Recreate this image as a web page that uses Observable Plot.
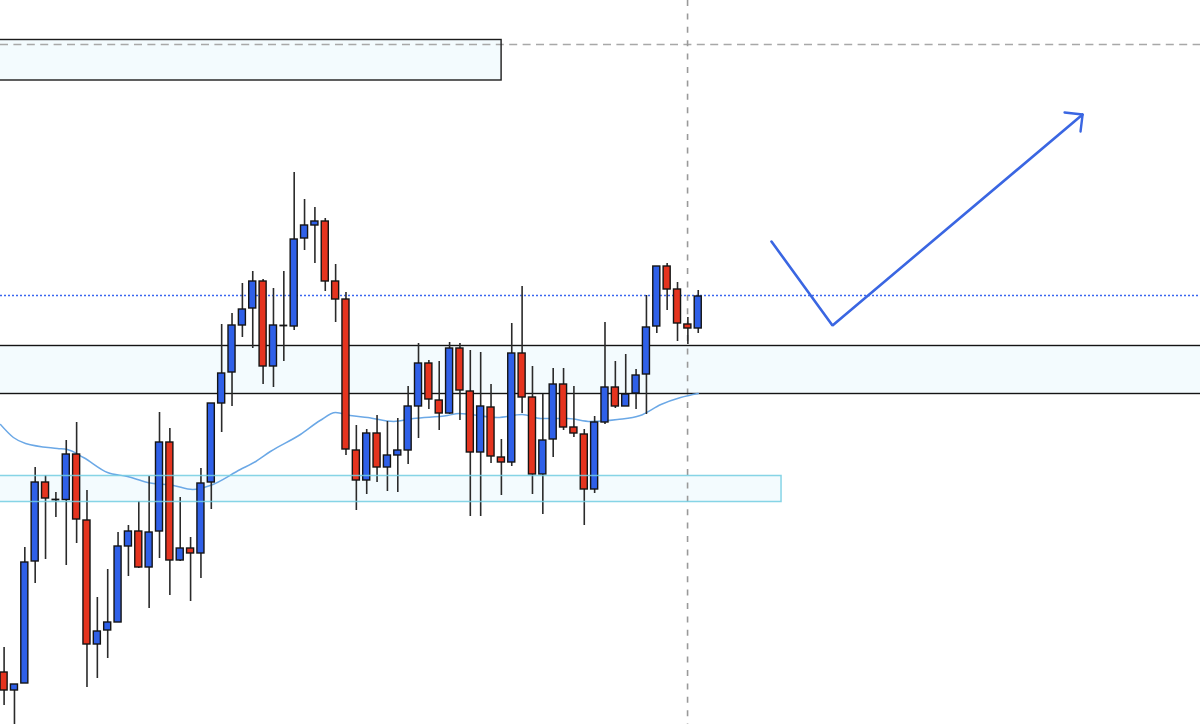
<!DOCTYPE html>
<html>
<head>
<meta charset="utf-8">
<script src="https://cdn.jsdelivr.net/npm/d3@7"></script>
<script src="https://cdn.jsdelivr.net/npm/@observablehq/plot@0.6"></script>
<style>html,body{margin:0;padding:0;background:#fff;overflow:hidden}svg{display:block}</style>
</head>
<body>
<div id="chart"></div>
<script>
const open  = [52,34,41,163,242,225,224.5,270,204,80,94,102,178,193,157,193,282,164,176,171,242,321,352,399,416,443,358,399,398,486,499,503,443,425,274,244,291,257,269,274,318,361,324,311,376,333,272,317,267,262,371,327,250,285,340,297,290,235,302,337,318,331,350,398,458,435,400,396];
const close = [34,40,162,242,226,224.5,270,205,80,93,102,178,193,157,192,282,164,176,171,241,321,351,399,415,443,358,399,398.5,485,499,503,443,425,275,244,291,257,269,274,318,361,325,311,376,334,272,318,268,262,371,327,250,284,340,297,291,235,302,337,318,330,349,397,458,435,401,396,428];
const high  = [77,40,177,257,249,232,284,302,234,127,155,192,199,223,248,312,296,227,187,256,321,400,411,441,453,445,436,453,552,525,517,506,460,432,299,295,309,303,306,338,381,364,363,382,381,374,372,340,285,401,438,358,330,356,356,338,295,308,402,363,370,355,429,458,461,442,407,434];
const low   = [19,-6,41,141,165,207,159,181,37,46,66,102,148,156,116,166,129,163,123,146,215,292,318,387,376,340,337,363,394,474,461,433,402,269,214,230,242,233,232,260,286,315,294,310,304,208,208,261,229,258,311,230,210,267,294,287,199,231,300,316,318,315,310,391,414,383,380,391];

const maIndex = [-0.35,0.9,2.07,5.15,6.1,7.66,9.98,11.9,13.85,16.35,18.2,19.9,22.8,24.3,25.7,28.6,30.5,32,33.4,35.1,37.6,39.5,42.8,43.9,47.6,50,51.8,54.4,56.6,59.2,61.4,63.4,65.3,67];
const maValue = [300,287,281,276,275,267,252,248,242,239,235,239,255,263,273,290,304,312,309,307,303,306,309,311,307,310,306,306,303,305,309,320,327,331];

const zones = [
  {x1:-2,  x2:48.02,  top:684.5, bottom:644,   stroke:"#1c1c1c"},
  {x1:-2,  x2:125,    top:378.5, bottom:330.5, stroke:"#141414"},
  {x1:-2,  x2:75.04,  top:248.5, bottom:222.5, stroke:"#72cde2"}
];
const crossPrice = 680, crossIndex = 65.97, dottedPrice = 429;
const tickIndex = [74.07,79.96,104.1], tickPrice = [483,399,610];
const headIndex = [102.36,104.1,103.9], headPrice = [612,610,593];

const candles = open.map((o,i)=>({i,o,c:close[i],h:high[i],l:low[i]}));
const BLUE="#2f60e8", RED="#e5341f", EDGE="#141414";
const half=0.34;
const isDoji=d=>Math.abs(d.o-d.c)<1;

const plot = Plot.plot({
  width:1200,height:724,
  marginTop:0,marginRight:0,marginBottom:0,marginLeft:0,
  style:{background:"#fff"},
  x:{type:"linear",domain:[-0.3475,115.48],range:[0,1200],axis:null},
  y:{type:"linear",domain:[0,724],range:[724,0],axis:null},
  marks:[
    Plot.rect(zones,{x1:"x1",x2:"x2",y1:"bottom",y2:"top",fill:"#f3fbfe"}),
    Plot.ruleY([crossPrice],{stroke:"#a8a8a8",strokeWidth:1.5,strokeDasharray:"8,5.4"}),
    Plot.ruleX([crossIndex],{stroke:"#999999",strokeWidth:1.6,strokeDasharray:"6,7.4"}),
    Plot.ruleY([dottedPrice],{stroke:"#3a66f0",strokeWidth:1.3,strokeOpacity:1,strokeDasharray:"2,2"}),
    Plot.rect(zones.slice(0,2),{x1:"x1",x2:"x2",y1:"bottom",y2:"top",fill:"none",stroke:"stroke",strokeWidth:1.4}),
    Plot.line(maIndex.map((x,k)=>({x,y:maValue[k]})),{x:"x",y:"y",stroke:"#6ba8e6",strokeWidth:1.5,curve:"monotone-x"}),
    Plot.ruleX(candles,{x:"i",y1:"l",y2:"h",stroke:"#2a2a2a",strokeWidth:1.6}),
    Plot.rect(candles.filter(d=>!isDoji(d)),{x1:d=>d.i-half,x2:d=>d.i+half,y1:"o",y2:"c",
      fill:d=>d.c>d.o?BLUE:RED,stroke:EDGE,strokeWidth:1.4}),
    Plot.ruleY(candles.filter(isDoji),{y:"o",x1:d=>d.i-half-0.04,x2:d=>d.i+half+0.04,stroke:EDGE,strokeWidth:1.8}),
    Plot.rect(zones.slice(2),{x1:"x1",x2:"x2",y1:"bottom",y2:"top",fill:"none",stroke:"stroke",strokeWidth:1.5,strokeOpacity:0.85}),
    Plot.line(tickIndex.map((x,k)=>({x,y:tickPrice[k]})),{x:"x",y:"y",stroke:"#3a66e2",strokeWidth:2.6,strokeLinejoin:"miter"}),
    Plot.line(headIndex.map((x,k)=>({x,y:headPrice[k]})),{x:"x",y:"y",stroke:"#3a66e2",strokeWidth:2.4,strokeLinejoin:"miter"})
  ]
});
document.getElementById("chart").append(plot);
</script>
</body>
</html>
